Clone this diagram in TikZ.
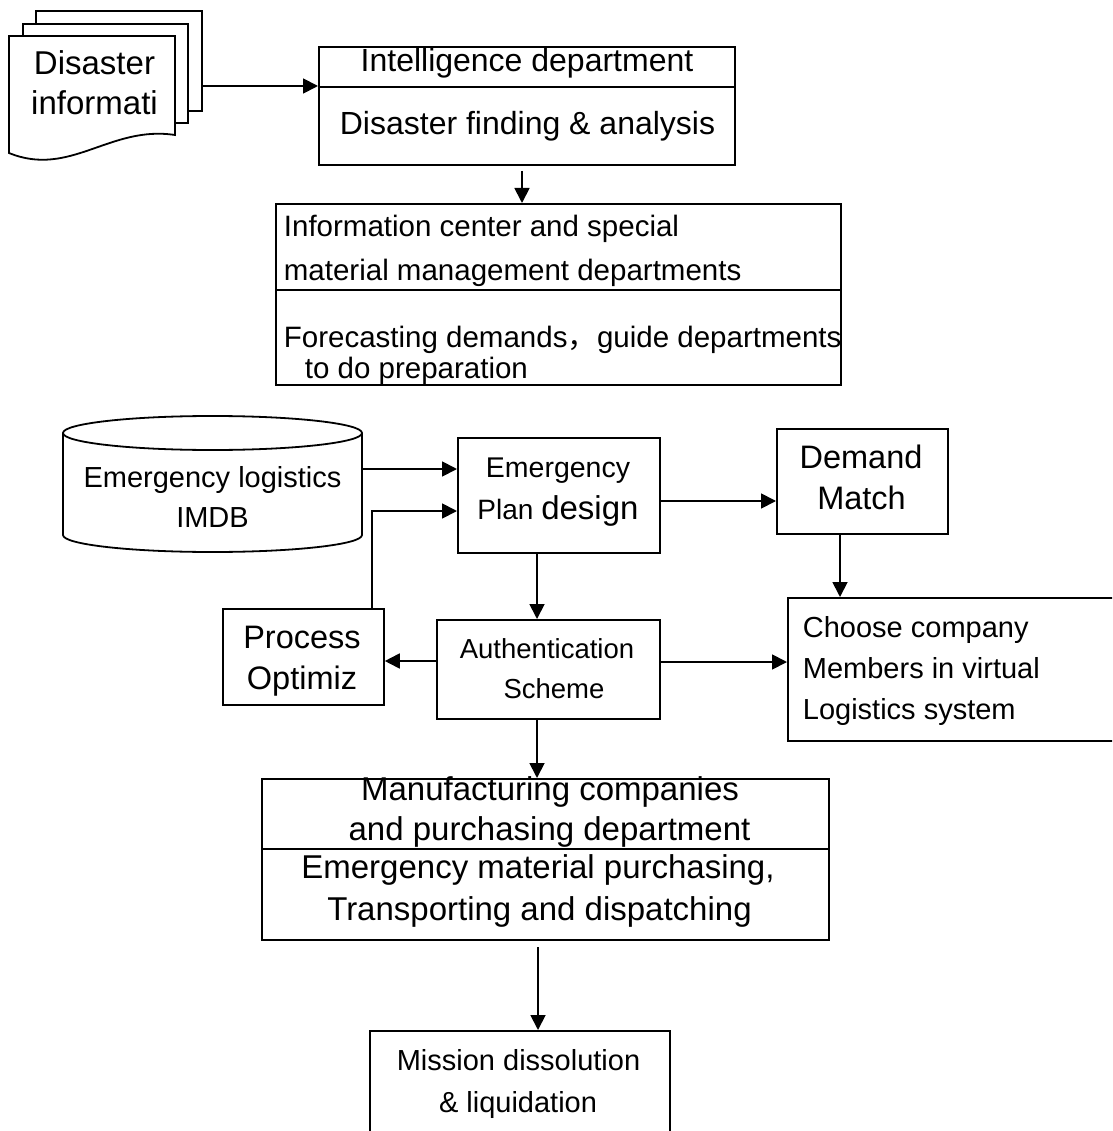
\documentclass[tikz,border=0pt]{standalone}
\usepackage{fontspec}
\setmainfont{Liberation Sans}
\newfontfamily\cjkfont{Noto Sans CJK SC}
\usetikzlibrary{arrows.meta}
\newcommand\fsz[1]{\fontsize{#1pt}{#1pt}\selectfont}
\begin{document}
\begin{tikzpicture}[x=1pt,y=-1pt,
  line width=1.8pt,
  box/.style={draw, line width=1.8pt, inner sep=0pt, anchor=north west, fill=white},
  lbl/.style={inner sep=0pt, anchor=base},
  lbll/.style={inner sep=0pt, anchor=base west},
  arr/.style={-{Triangle[length=15pt,width=15pt]}, line width=1.8pt}]
\useasboundingbox (0,0) rectangle (1112,1131);
\clip (0,0) rectangle (1112,1131);

% ---- stacked documents: disaster information ----
\draw[fill=white] (36,11) rectangle (202,111);
\draw[fill=white] (23,24) rectangle (188,123);
\draw[fill=white] (9,36) -- (175,36) -- (175,135)
  .. controls (110,125) and (70,178) .. (9,153) -- cycle;
\node[lbl] (d1) at (94.5,75) {\fsz{33}Disaster};
\node[lbl] (d2) at (94.5,115) {\fsz{33}informati};
\coordinate (stackR) at (202,86);

% ---- intelligence department ----
\node[box, minimum width=416pt, minimum height=40pt] (intelu) at (318,46) {};
\node[box, minimum width=416pt, minimum height=78pt] (intell) at (318,86) {};
\node[lbl] (t1) at (527,72) {\fsz{32}Intelligence department};
\node[lbl] (t2) at (527.5,135) {\fsz{32}Disaster finding \& analysis};

% ---- information center ----
\node[box, minimum width=565pt, minimum height=86pt] (infou) at (275,203) {};
\node[box, minimum width=565pt, minimum height=95pt] (infol) at (275,289) {};
\node[lbll] (t3) at (283,237) {\fsz{29.5}Information center and special};
\node[lbll] (t4) at (283,280) {\fsz{29.5}material management departments};
\node[lbll] (t5) at (283,347) {\fsz{29.5}Forecasting demands{\cjkfont ，}guide departments};
\node[lbll] (t6) at (304,378) {\fsz{29.5}to do preparation};

% ---- database cylinder ----
\draw[fill=white] (63,433) -- (63,535)
  arc[start angle=180, end angle=360, x radius=149.5pt, y radius=17pt]
  -- (362,433)
  arc[start angle=0, end angle=180, x radius=149.5pt, y radius=17pt] -- cycle;
\draw (63,433) arc[start angle=180, end angle=360, x radius=149.5pt, y radius=17pt];
\node[inner sep=0pt, anchor=north west, minimum width=299pt, minimum height=136pt] (cyl) at (63,416) {};
\node[lbl] (t7) at (212.5,487) {\fsz{29}Emergency logistics};
\node[lbl] (t8) at (212.5,527) {\fsz{29}IMDB};

% ---- middle row boxes ----
\node[box, minimum width=202pt, minimum height=115pt] (plan) at (457,437) {};
\node[lbl] (t9) at (558,477) {\fsz{28.5}Emergency};
\node[lbl] (t10) at (558,519) {\fsz{28}Plan {\fsz{33}design}};

\node[box, minimum width=171pt, minimum height=105pt] (demand) at (776,428) {};
\node[lbl] (t11) at (861,468) {\fsz{32.5}Demand};
\node[lbl] (t12) at (861.5,509) {\fsz{32.5}Match};

\node[box, minimum width=161pt, minimum height=96pt] (process) at (222,608) {};
\node[lbl] (t13) at (302,648) {\fsz{32.5}Process};
\node[lbl] (t14) at (302,689) {\fsz{32.5}Optimiz};

\node[box, minimum width=223pt, minimum height=99pt] (auth) at (436,619) {};
\node[lbl] (t15) at (547,658) {\fsz{27.5}Authentication};
\node[lbl] (t16) at (554,698) {\fsz{27.5}Scheme};

\node[box, minimum width=330pt, minimum height=143pt] (choose) at (787,597) {};
\node[lbll] (t17) at (802,637) {\fsz{29}Choose company};
\node[lbll] (t18) at (802,678) {\fsz{29}Members in virtual};
\node[lbll] (t19) at (802,719) {\fsz{29}Logistics system};

% ---- manufacturing companies ----
\node[box, minimum width=567pt, minimum height=70pt] (manu) at (261,778) {};
\node[lbl] (t20) at (550,800) {\fsz{33}Manufacturing companies};
\node[lbl] (t21) at (549.5,840) {\fsz{33}and purchasing department};
\node[box, minimum width=567pt, minimum height=91pt] (manl) at (261,848) {};
\node[lbl] (t22) at (538,878) {\fsz{33}Emergency material purchasing,};
\node[lbl] (t23) at (539.5,920) {\fsz{33}Transporting and dispatching};

% ---- mission dissolution ----
\node[box, minimum width=300pt, minimum height=130pt] (mission) at (369,1030) {};
\node[lbl] (t24) at (518.5,1070) {\fsz{29}Mission dissolution};
\node[lbl] (t25) at (518,1112) {\fsz{29}\& liquidation};

% ---- connector guide points ----
\coordinate (c522) at (522,171);
\coordinate (cylA) at (362,469);
\coordinate (bend) at (372,511);
\coordinate (c501) at (659,501);
\coordinate (c537) at (537,0);
\coordinate (c840) at (840,0);
\coordinate (c661) at (0,661);
\coordinate (c662) at (0,662);
\coordinate (c947) at (538,947);

% ---- connectors ----
\draw[arr] (stackR) -- (intell.north west);
\draw[arr] (c522) -- (infou.north -| c522);
\draw[arr] (cylA) -- (plan.west |- cylA);
\draw[arr] (process.north -| bend) -- (bend) -- (plan.west |- bend);
\draw[arr] (c501) -- (demand.west |- c501);
\draw[arr] (plan.south -| c537) -- (auth.north -| c537);
\draw[arr] (demand.south -| c840) -- (choose.north -| c840);
\draw[arr] (auth.west |- c661) -- (process.east |- c661);
\draw[arr] (auth.east |- c662) -- (choose.west |- c662);
\draw[arr] (auth.south -| c537) -- (manu.north -| c537);
\draw[arr] (c947) -- (mission.north -| c947);
\end{tikzpicture}
\end{document}
